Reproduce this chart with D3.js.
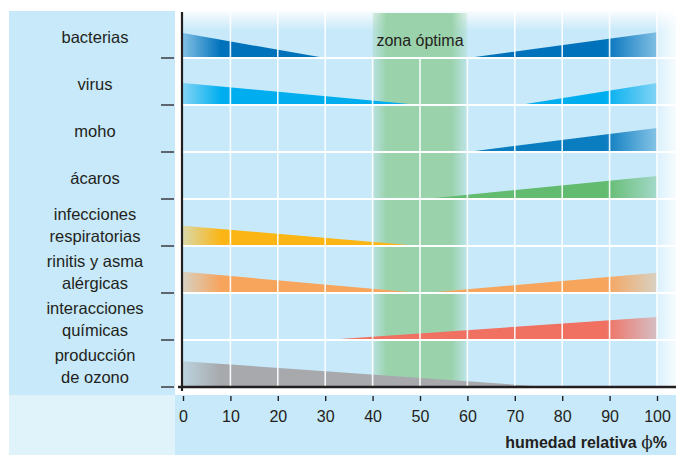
<!doctype html>
<html>
<head>
<meta charset="utf-8">
<script src="https://d3js.org/d3.v7.min.js"></script>
<style>
  body{margin:0;background:#fff;}
  text{font-family:"Liberation Sans",Arial,sans-serif;fill:#231f20;}
</style>
</head>
<body>
<svg id="chart" width="676" height="455"></svg>
<script>
// categories (label lines), top to bottom
var categories = [
  ["bacterias"],
  ["virus"],
  ["moho"],
  ["ácaros"],
  ["infecciones","respiratorias"],
  ["rinitis y asma","alérgicas"],
  ["interacciones","químicas"],
  ["producción","de ozono"]
];
// left wedge: level at 0 % and humidity where it vanishes (null = none)
var leftLevel = [5.3, 4.7, 0, 0, 4.3, 4.5, 0, 5.5];
var leftEnd   = [30, 50, null, null, 50, 50, null, 77];
// right wedge: humidity where it starts and level at 100 %
var rightStart = [60, 71, 60, 51, null, 51, 30, null];
var rightLevel = [5.5, 4.7, 5.1, 4.9, 0, 4.3, 4.9, 0];
var colors = ["#0072bc","#00aeef","#0a7cc0","#62bb6f","#fbb615","#f7a45c","#f07062","#a7a9ac"];
var xTicks = [0,10,20,30,40,50,60,70,80,90,100];
var optimal = [40, 60];

var svg = d3.select("#chart");
var W = 676, H = 455;
var top0 = 11, bottom0 = 387;

var x = d3.scaleLinear().domain([0,100]).range([183,657]);
var y = d3.scaleBand().domain(d3.range(categories.length)).range([top0,bottom0]);
var h = d3.scaleLinear().domain([0,10]).range([0,y.bandwidth()]);

var defs = svg.append("defs");

// panels
svg.append("rect").attr("x",9).attr("y",11).attr("width",166).attr("height",384).attr("fill","#c7e9f9");
svg.append("rect").attr("x",9).attr("y",395).attr("width",166).attr("height",60).attr("fill","#e0f3fb");
svg.append("rect").attr("x",175).attr("y",395).attr("width",W-175).attr("height",60).attr("fill","#c7e9f9");

// plot background with fades
svg.append("rect").attr("x",182).attr("y",top0).attr("width",W-182).attr("height",bottom0-top0).attr("fill","#c7e9f9");
var gTop = defs.append("linearGradient").attr("id","fadeTop").attr("x1",0).attr("x2",0).attr("y1",0).attr("y2",1);
gTop.append("stop").attr("offset",0).attr("stop-color","#fff").attr("stop-opacity",0.9);
gTop.append("stop").attr("offset",1).attr("stop-color","#fff").attr("stop-opacity",0);
svg.append("rect").attr("x",182).attr("y",top0).attr("width",W-182).attr("height",20).attr("fill","url(#fadeTop)");
var gRight = defs.append("linearGradient").attr("id","fadeRight");
gRight.append("stop").attr("offset",0).attr("stop-color","#fff").attr("stop-opacity",0.35);
gRight.append("stop").attr("offset",1).attr("stop-color","#fff").attr("stop-opacity",0.85);
svg.append("rect").attr("x",x(100)).attr("y",top0).attr("width",W-x(100)).attr("height",bottom0-top0).attr("fill","url(#fadeRight)");

// optimal zone
var gZone = defs.append("linearGradient").attr("id","zone").attr("gradientUnits","userSpaceOnUse")
  .attr("x1",x(optimal[0])).attr("x2",x(optimal[1]));
var zw = x(optimal[1]) - x(optimal[0]);
gZone.append("stop").attr("offset",0).attr("stop-color","#9ad2ab").attr("stop-opacity",0.3);
gZone.append("stop").attr("offset",14/zw).attr("stop-color","#9ad2ab").attr("stop-opacity",1);
gZone.append("stop").attr("offset",1-16/zw).attr("stop-color","#9ad2ab").attr("stop-opacity",1);
gZone.append("stop").attr("offset",1).attr("stop-color","#9ad2ab").attr("stop-opacity",0.2);
svg.append("rect").attr("x",x(optimal[0])).attr("y",13).attr("width",zw).attr("height",bottom0-13)
  .attr("fill","url(#zone)");

// wedges
categories.forEach(function(c,i){
  var base = y(i) + y.bandwidth();
  if(leftEnd[i] !== null){
    var id = "gl"+i;
    var g = defs.append("linearGradient").attr("id",id).attr("gradientUnits","userSpaceOnUse")
      .attr("x1",x(0)).attr("x2",x(8));
    g.append("stop").attr("offset",0).attr("stop-color",colors[i]).attr("stop-opacity",0.35);
    g.append("stop").attr("offset",1).attr("stop-color",colors[i]).attr("stop-opacity",1);
    svg.append("polygon")
      .attr("points",[[x(0),base],[x(0),base-h(leftLevel[i])],[x(leftEnd[i]),base]].join(" "))
      .attr("fill","url(#"+id+")");
  }
  if(rightStart[i] !== null){
    var id2 = "gr"+i;
    var g2 = defs.append("linearGradient").attr("id",id2).attr("gradientUnits","userSpaceOnUse")
      .attr("x1",x(89)).attr("x2",x(100));
    g2.append("stop").attr("offset",0).attr("stop-color",colors[i]).attr("stop-opacity",1);
    g2.append("stop").attr("offset",1).attr("stop-color",colors[i]).attr("stop-opacity",0.35);
    svg.append("polygon")
      .attr("points",[[x(rightStart[i]),base],[x(100),base-h(rightLevel[i])],[x(100),base]].join(" "))
      .attr("fill","url(#"+id2+")");
  }
});

// grid (inside the optimal zone the lines start below the first row)
svg.selectAll("line.vg").data(xTicks.slice(1)).enter().append("line").attr("class","vg")
  .attr("x1",function(d){return x(d);}).attr("x2",function(d){return x(d);})
  .attr("y1",function(d){return (d>=optimal[0] && d<=optimal[1]) ? y(0)+y.bandwidth() : top0;})
  .attr("y2",bottom0)
  .attr("stroke","#fff").attr("stroke-width",1.6).attr("stroke-opacity",0.9);
svg.selectAll("line.hg").data(d3.range(categories.length-1)).enter().append("line").attr("class","hg")
  .attr("x1",183).attr("x2",W)
  .attr("y1",function(d){return y(d)+y.bandwidth();}).attr("y2",function(d){return y(d)+y.bandwidth();})
  .attr("stroke","#fff").attr("stroke-width",2);

svg.append("text").attr("x",x(50)).attr("y",46).attr("text-anchor","middle")
  .style("font-size","16px").text("zona óptima");

// left ticks and labels
categories.forEach(function(c,i){
  var base = y(i) + y.bandwidth();
  svg.append("line").attr("x1",161).attr("x2",174).attr("y1",base).attr("y2",base)
    .attr("stroke","#231f20").attr("stroke-width",1.3);
  var mid = y(i) + y.bandwidth()/2;
  var t = svg.append("text").attr("text-anchor","middle").style("font-size","16.5px");
  if(c.length === 1){
    t.append("tspan").attr("x",95).attr("y",mid+8.5).text(c[0]);
  } else {
    c.forEach(function(s,k){
      t.append("tspan").attr("x",95).attr("y",mid + 1 + (k-0.5)*22 + 7).text(s);
    });
  }
});

// axes lines
svg.append("line").attr("x1",182).attr("x2",182).attr("y1",12).attr("y2",391)
  .attr("stroke","#231f20").attr("stroke-width",2.2);
svg.append("line").attr("x1",178).attr("x2",W).attr("y1",bottom0).attr("y2",bottom0)
  .attr("stroke","#231f20").attr("stroke-width",2.4);

// bottom axis
var xAxis = d3.axisBottom(x).tickValues(xTicks).tickSize(5).tickPadding(9.5);
var ga = svg.append("g").attr("transform","translate(0,396)").call(xAxis);
ga.select(".domain").remove();
ga.selectAll(".tick line").attr("stroke","#231f20").attr("stroke-width",1.4);
ga.selectAll(".tick text").attr("fill","#231f20")
  .style("font-family","'Liberation Sans',Arial,sans-serif").style("font-size","16px");

var lab = svg.append("text").attr("x",667).attr("y",448).attr("text-anchor","end")
  .style("font-size","16px").style("font-weight","bold");
lab.append("tspan").text("humedad relativa ");
lab.append("tspan").style("font-weight","normal").style("font-family","'DejaVu Serif',serif").style("font-size","17px").text("ϕ");
lab.append("tspan").text("%");
</script>
</body>
</html>
